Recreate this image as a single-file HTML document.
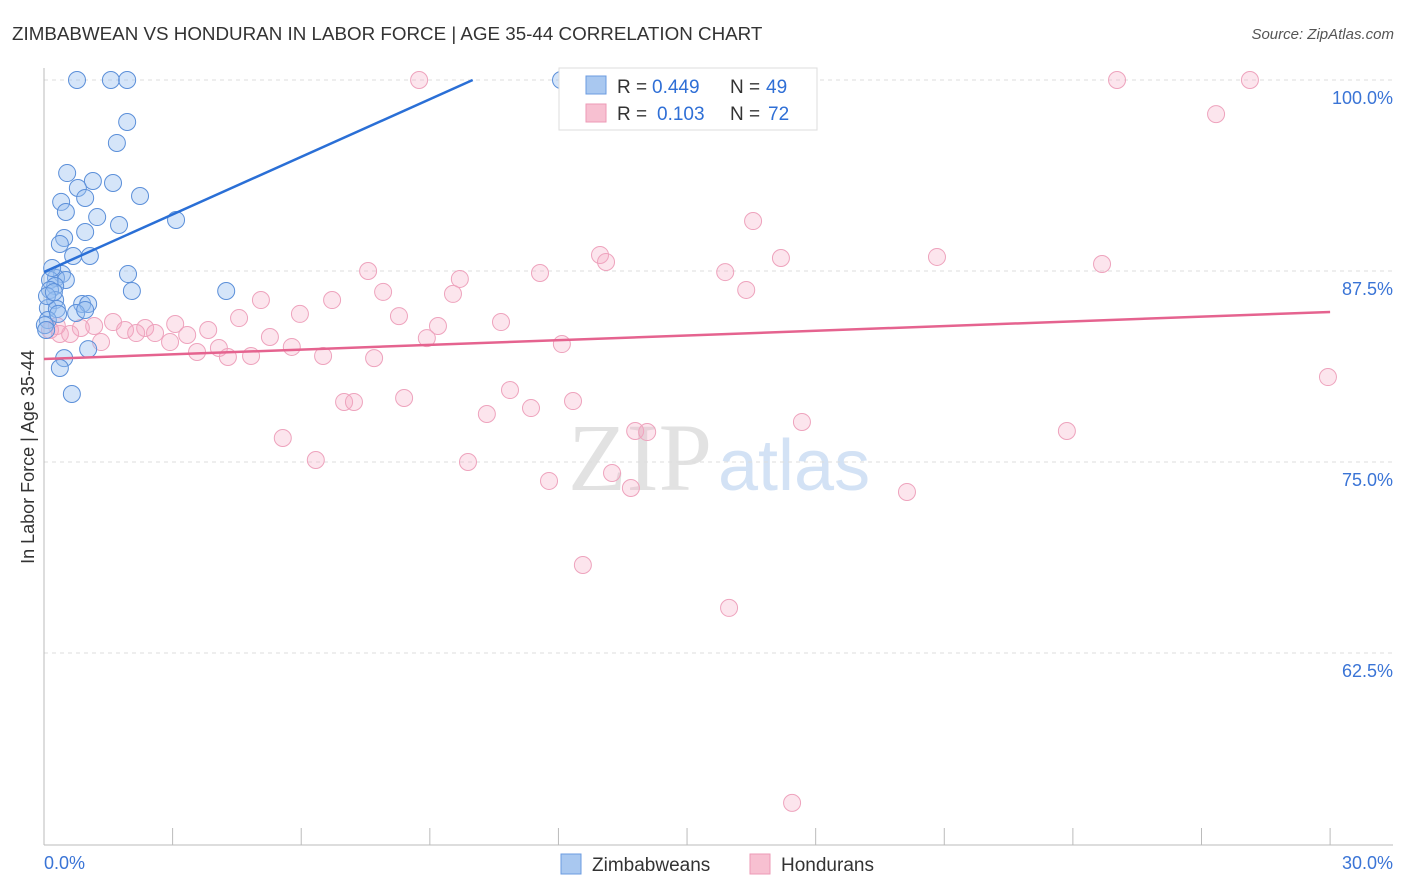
<!DOCTYPE html>
<html><head><meta charset="utf-8"><style>
body{margin:0;background:#fff;font-family:"Liberation Sans",sans-serif}
svg{display:block}
</style></head><body>
<svg id="chart" width="1406" height="892">
<text x="12" y="40" font-size="18.8" fill="#333">ZIMBABWEAN VS HONDURAN IN LABOR FORCE | AGE 35-44 CORRELATION CHART</text>
<text x="1394" y="39" font-size="15" fill="#555" font-style="italic" text-anchor="end">Source: ZipAtlas.com</text>
<text x="712" y="490" font-size="96" fill="#e2e2e2" font-family="Liberation Serif,serif" text-anchor="end">ZIP</text>
<text x="718" y="490" font-size="72" fill="#d3e2f5">atlas</text>
<text transform="translate(34,457) rotate(-90)" font-size="18" fill="#333" text-anchor="middle">In Labor Force | Age 35-44</text>
<g id="grid"></g><g id="pts"></g><g id="lines"></g>
<g>
<rect x="559" y="68" width="258" height="62" fill="#fff" stroke="#ddd"/>
<rect x="586" y="76" width="20" height="18" fill="#a9c8f0" stroke="#6b9be0"/>
<rect x="586" y="104" width="20" height="18" fill="#f7c0d1" stroke="#ec9ab6"/>
<text x="617" y="93" font-size="19" fill="#333">R =</text><text x="652" y="93" font-size="19" fill="#2f6fd6">0.449</text>
<text x="730" y="93" font-size="19" fill="#333">N =</text><text x="766" y="93" font-size="19" fill="#2f6fd6">49</text>
<text x="617" y="120" font-size="19" fill="#333">R =</text><text x="657" y="120" font-size="19" fill="#2f6fd6">0.103</text>
<text x="730" y="120" font-size="19" fill="#333">N =</text><text x="768" y="120" font-size="19" fill="#2f6fd6">72</text>
</g>
<g>
<rect x="561" y="854" width="20" height="20" fill="#a9c8f0" stroke="#6b9be0"/>
<text x="592" y="871" font-size="19" fill="#333">Zimbabweans</text>
<rect x="750" y="854" width="20" height="20" fill="#f7c0d1" stroke="#ec9ab6"/>
<text x="781" y="871" font-size="19" fill="#333">Hondurans</text>
</g>
</svg>
<script>
const yTicks=[100,87.5,75,62.5];
const yTickLabels=["100.0%","87.5%","75.0%","62.5%"];
const xTickLabels=["0.0%","30.0%"];
const blueX=[0.77,1.56,1.94,12.06,1.94,1.70,0.54,1.14,1.61,0.79,0.96,2.24,0.40,0.51,1.24,3.08,1.75,0.96,0.47,0.37,0.68,1.07,1.96,0.42,0.28,0.14,0.51,0.26,2.05,4.25,0.14,0.26,0.89,1.03,0.09,0.30,0.75,0.96,0.09,0.02,1.03,0.47,0.37,0.65,0.19,0.07,0.23,0.05,0.33];
const blueY=[100,100,100,100,97.25,95.88,93.91,93.39,93.26,92.93,92.28,92.41,92.02,91.36,91.03,90.84,90.51,90.05,89.66,89.27,88.48,88.48,87.30,87.30,87.04,86.91,86.91,86.52,86.19,86.19,86.26,85.60,85.34,85.34,85.08,85.01,84.75,84.95,84.29,83.96,82.39,81.80,81.15,79.45,87.70,85.86,86.12,83.64,84.69];
const pinkX=[8.75,25.03,28.13,27.34,16.54,12.97,13.11,20.83,17.19,24.68,15.89,7.56,11.57,9.70,7.91,9.54,16.38,5.06,6.72,5.97,8.28,4.55,10.66,1.61,3.06,1.17,0.86,9.19,2.36,3.83,1.89,2.15,2.59,3.34,5.27,0.37,0.61,0.30,8.93,2.94,12.08,1.33,4.08,5.78,3.57,4.29,4.83,6.51,7.70,10.87,8.40,12.34,7.00,7.23,11.36,10.33,17.68,13.79,14.07,23.86,5.57,6.34,9.89,13.25,11.78,13.69,20.13,12.57,15.98,17.45,29.95,0.14];
const pinkY=[100,100,100,97.77,90.77,88.55,88.09,88.42,88.35,87.96,87.43,87.50,87.37,86.98,86.13,86.00,86.26,85.60,85.60,84.69,84.55,84.42,84.16,84.16,84.03,83.90,83.77,83.90,83.77,83.64,83.64,83.44,83.44,83.31,83.18,83.38,83.38,83.90,83.11,82.85,82.72,82.85,82.46,82.53,82.20,81.87,81.94,81.94,81.80,79.71,79.19,78.99,78.93,78.93,78.53,78.14,77.62,77.03,76.96,77.03,76.57,75.13,75.00,74.28,73.76,73.30,73.04,68.26,65.45,52.69,80.56,83.64];
const blueTrend=[0,87.43,10.0,100];
const pinkTrend=[0,81.74,30,84.82];
const X=v=>44+v*42.87, Y=v=>80+(100-v)*15.28;
const NS="http://www.w3.org/2000/svg";
function mk(t,a,p){const e=document.createElementNS(NS,t);for(const k in a)e.setAttribute(k,a[k]);p.appendChild(e);return e;}
const g=document.getElementById('grid');
yTicks.forEach((v,i)=>{
 const l=mk('line',{x1:44,x2:1393,y1:Y(v),y2:Y(v),stroke:'#ddd','stroke-dasharray':'4,4'},g);
 
 
 const t=mk('text',{x:1393,y:Y(v)+24,'font-size':18,fill:'#3a74d6','text-anchor':'end'},g);
 t.textContent=yTickLabels[i];
 
 
});
const ax=mk('line',{x1:44,x2:44,y1:68,y2:845,stroke:'#bbb'},g);


const bx=mk('line',{x1:44,x2:1393,y1:845,y2:845,stroke:'#bbb'},g);


for(let i=0;i<=10;i++){const t=mk('line',{x1:X(i*3),x2:X(i*3),y1:828,y2:845,stroke:'#bbb'},g);
 
 }
[[0,'start'],[30,'end']].forEach((d,i)=>{const t=mk('text',{x:i?1393:44,y:869,'font-size':18,fill:'#3a74d6','text-anchor':d[1]},g);t.textContent=xTickLabels[i];
 
 });
const p=document.getElementById('pts');
pinkX.forEach((x,i)=>{const c=mk('circle',{cx:X(x),cy:Y(pinkY[i]),r:8.5,fill:'rgba(245,170,195,0.3)',stroke:'#eea3bd','stroke-width':1},p);
 
 });
blueX.forEach((x,i)=>{const c=mk('circle',{cx:X(x),cy:Y(blueY[i]),r:8.5,fill:'rgba(150,190,240,0.4)',stroke:'#5b8fd9','stroke-width':1},p);
 
 });
const L=document.getElementById('lines');
const b=mk('line',{x1:X(blueTrend[0]),y1:Y(blueTrend[1]),x2:X(blueTrend[2]),y2:Y(blueTrend[3]),stroke:'#2a6fd6','stroke-width':2.5},L);


const q=mk('line',{x1:X(pinkTrend[0]),y1:Y(pinkTrend[1]),x2:X(pinkTrend[2]),y2:Y(pinkTrend[3]),stroke:'#e5638f','stroke-width':2.5},L);


</script>
</body></html>
